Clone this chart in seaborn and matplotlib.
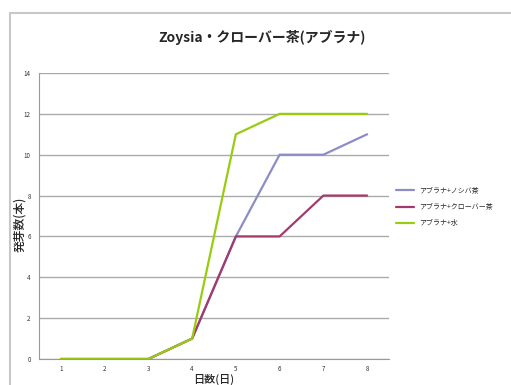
import matplotlib
matplotlib.use("Agg")
import matplotlib.pyplot as plt
import seaborn as sns
import pandas as pd
from matplotlib.patches import Rectangle

days = [1, 2, 3, 4, 5, 6, 7, 8]
noshiba = [0, 0, 0, 1, 6, 10, 10, 11]
clover = [0, 0, 0, 1, 6, 6, 8, 8]
water = [0, 0, 0, 1, 11, 12, 12, 12]
series_names = ["アブラナ+ノシバ茶", "アブラナ+クローバー茶", "アブラナ+水"]
series_colors = ["#8c8cc8", "#a33a6e", "#99cc11"]

df = pd.concat([
    pd.DataFrame({"day": days, "count": vals, "series": name})
    for name, vals in zip(series_names, [noshiba, clover, water])
])

sns.set_style("white")
plt.rcParams["font.family"] = ["Noto Sans CJK JP", "DejaVu Sans"]

fig = plt.figure(figsize=(5.11, 3.85), dpi=100)
fig.patches.append(Rectangle((10 / 511, -0.1), 1.2, 1 - 13 / 385 + 0.1,
                             transform=fig.transFigure, fill=False,
                             edgecolor="#c8c8c8", linewidth=1.5))

ax = fig.add_axes([39 / 511, 1 - 359 / 385, 350 / 511, 286 / 385])
sns.lineplot(data=df, x="day", y="count", hue="series", palette=series_colors,
             hue_order=series_names, linewidth=1.6, ax=ax, legend=True)

ax.set_xlim(0.5, 8.5)
ax.set_ylim(0, 14)
ax.set_yticks(range(0, 15, 2))
ax.set_xticks(days)
ax.tick_params(axis="both", labelsize=4.5, pad=3, colors="#333333")
ax.tick_params(axis="y", length=3, color="#999999", direction="out")
ax.tick_params(axis="x", length=0, pad=4)
ax.set_xticks([d + 0.5 for d in range(0, 9)], minor=True)
ax.tick_params(axis="x", which="minor", length=3, color="#999999", direction="out")
ax.grid(axis="y", color="#aaaaaa", linewidth=1)
for side in ["top", "right"]:
    ax.spines[side].set_visible(False)
ax.spines["left"].set_color("#999999")
ax.spines["bottom"].set_color("#999999")
ax.set_axisbelow(True)

ax.set_xlabel("")
ax.set_ylabel("")
fig.text(214 / 511, 1 - 379.5 / 385, "日数(日)", ha="center", va="center",
         fontsize=8, fontweight="medium")
fig.text(20 / 511, 1 - 224 / 385, "発芽数(本)", ha="center", va="center",
         rotation=90, fontsize=8.5, fontweight="medium")

fig.text(262 / 511, 1 - 37 / 385, "Zoysia・クローバー茶(アブラナ)", ha="center",
         va="center", fontsize=10, fontweight="bold")

leg = ax.legend(loc="center left", bbox_to_anchor=(390 / 511, 1 - 207 / 385),
                bbox_transform=fig.transFigure, frameon=False, fontsize=5,
                handlelength=2.5, labelspacing=1.2, title=None)

fig.savefig("out.png", dpi=100)
